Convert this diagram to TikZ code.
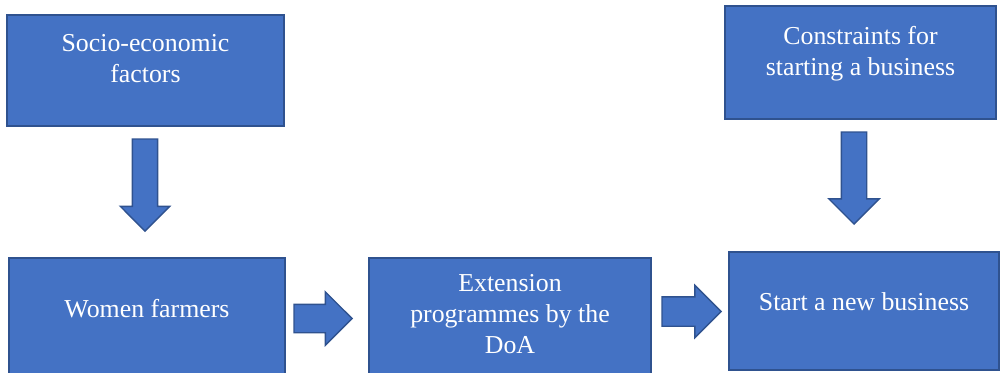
\documentclass[tikz,border=0pt]{standalone}
\usepackage{fontspec}
\setmainfont{Liberation Serif}
\usetikzlibrary{shapes.arrows}

\definecolor{boxblue}{HTML}{4472C4}
\definecolor{boxedge}{HTML}{2F528F}

\begin{document}
\begin{tikzpicture}[x=0.02cm, y=-0.02cm,
    box/.style={rectangle, draw=boxedge, fill=boxblue, line width=0.8pt, inner sep=0pt},
    txt/.style={text=white, align=center, inner sep=0pt, font=\fontsize{14.7}{17.6}\selectfont},
    blockarrow/.style={single arrow, draw=boxedge, fill=boxblue, line width=0.8pt, single arrow head indent=0pt, anchor=tip}]

    \useasboundingbox (0,0) rectangle (1001,372);

    % Boxes
    \node[box, minimum width=5.54cm, minimum height=2.22cm, label={[txt, yshift=0.23cm]center:{Socio-economic\\factors}}] (soc) at (145.5,70.5) {};
    \node[box, minimum width=5.42cm, minimum height=2.26cm, label={[txt, yshift=0.18cm]center:{Constraints for\\starting a business}}] (con) at (860.5,62.5) {};
    \node[box, minimum width=5.52cm, minimum height=2.40cm, label={[txt, yshift=0.19cm]center:{Women farmers}}] (wom) at (147,318) {};
    \node[box, minimum width=5.64cm, minimum height=2.40cm, label={[txt, yshift=0.08cm]center:{Extension\\programmes by the\\DoA}}] (ext) at (510,318) {};
    \node[box, minimum width=5.40cm, minimum height=2.36cm, label={[txt, yshift=0.19cm]center:{Start a new business}}] (sta) at (864,311) {};

    % Block arrows
    \node[blockarrow, shape border rotate=270, inner xsep=0.24cm, inner ysep=0pt, single arrow head extend=0.24cm, minimum height=1.84cm] (socwom) at (145,232) {};
    \node[blockarrow, shape border rotate=270, inner xsep=0.24cm, inner ysep=0pt, single arrow head extend=0.25cm, minimum height=1.84cm] (consta) at (854,225) {};
    \node[blockarrow, inner xsep=0pt, inner ysep=0.27cm, single arrow head extend=0.25cm, minimum height=1.16cm] (womext) at (353,318.5) {};
    \node[blockarrow, inner xsep=0pt, inner ysep=0.28cm, single arrow head extend=0.23cm, minimum height=1.18cm] (extsta) at (722,311.5) {};

\end{tikzpicture}
\end{document}
